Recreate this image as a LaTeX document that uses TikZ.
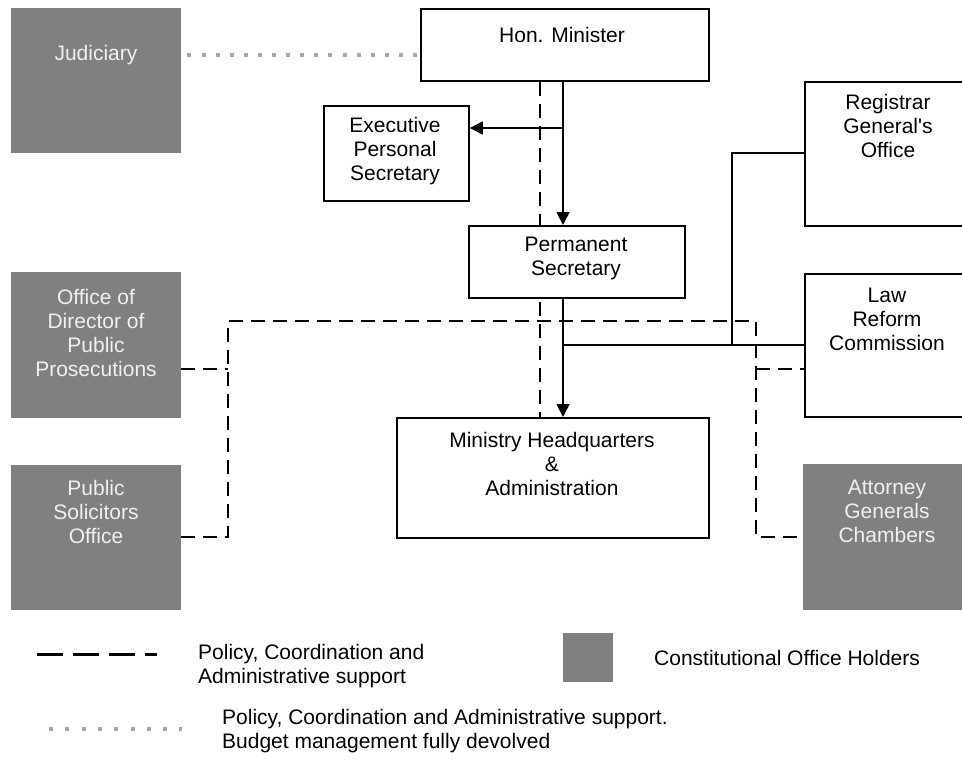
\documentclass[tikz,border=0pt]{standalone}
\usepackage{fontspec}
\setmainfont{Liberation Sans}[Ligatures=TeXOff]
\usetikzlibrary{arrows.meta,backgrounds}
\definecolor{cgray}{HTML}{808080}
\definecolor{dotgray}{HTML}{A8A8A8}
\tikzset{
  wbox/.style={draw=black, line width=1.8pt, fill=white, anchor=north west, inner sep=0pt},
  gbox/.style={fill=cgray, draw=none, anchor=north west, inner sep=0pt},
  txt/.style={align=center, inner sep=0pt, font=\fontsize{21}{24}\selectfont},
  gtxt/.style={txt, text=white!94!black},
  solid line/.style={draw=black, line width=1.8pt},
  arr/.style={solid line, -{Triangle[width=13pt,length=13pt]}},
  dline/.style={draw=black, line width=1.8pt, dash pattern=on 14pt off 8pt},
  dotline/.style={draw=dotgray, line width=4pt, dash pattern=on 4pt off 10.1pt},
}
\begin{document}
\begin{tikzpicture}[x=1pt,y=-1pt]
\useasboundingbox (0,0) rectangle (962,761);
% boxes
\node[gbox, minimum width=170pt, minimum height=145pt] (jud) at (11,8) {};
\node[gtxt] (judt) at (96,55) {Judiciary};
\node[wbox, minimum width=288pt, minimum height=72pt] (min) at (420,8) {};
\node[txt] (mint) at (562,35) {Hon. Minister};
\node[wbox, minimum width=145pt, minimum height=95pt] (eps) at (323,105) {};
\node[txt] (epst) at (395,151) {Executive\\Personal\\Secretary};
\node[wbox, minimum width=216pt, minimum height=72pt] (ps) at (468,225) {};
\node[txt] (pst) at (576,258) {Permanent\\Secretary};
\node[wbox, minimum width=170pt, minimum height=144pt] (rgo) at (804,81) {};
\node[txt] (rgot) at (888,126) {Registrar\\General's\\Office};
\node[wbox, minimum width=170pt, minimum height=143pt] (lrc) at (804,273) {};
\node[txt] (lrct) at (887,319) {Law\\Reform\\Commission};
\node[gbox, minimum width=170pt, minimum height=146pt] (dpp) at (11,272) {};
\node[gtxt] (dppt) at (96,333) {Office of\\Director of\\Public\\Prosecutions};
\node[gbox, minimum width=170pt, minimum height=145pt] (pso) at (11,465) {};
\node[gtxt] (psot) at (96,512) {Public\\Solicitors\\Office};
\node[wbox, minimum width=312pt, minimum height=120pt] (hq) at (396,417) {};
\node[txt] (hqt) at (552,464) {Ministry Headquarters\\\&\\Administration};
\node[gbox, minimum width=165pt, minimum height=146pt] (agc) at (803,464) {};
\node[gtxt] (agct) at (887,511) {Attorney\\Generals\\Chambers};
% helper coordinates
\coordinate (jl) at (0,55);
\coordinate (sx) at (563,0);
\coordinate (dx) at (540,0);
\coordinate (ey) at (0,128);
\coordinate (ly) at (0,345);
\coordinate (rx) at (732,0);
\coordinate (ry) at (0,153);
\coordinate (lx) at (228,0);
\coordinate (rdx) at (756,0);
\coordinate (ty) at (0,321);
\coordinate (my) at (0,369);
\coordinate (by) at (0,537);
\begin{scope}[on background layer]
% dotted
\draw[dotline, dash phase=-6pt] (jud.east |- jl) -- (min.west |- jl);
% dashed connectors
\draw[dline] (min.south -| dx) -- (hq.north -| dx);
\draw[dline] (pso.east |- by) -- (lx |- by) -- (lx |- ty) -- (rdx |- ty) -- (rdx |- by) -- (agc.west |- by);
\draw[dline] (dpp.east |- my) -- (lx |- my);
\draw[dline] (rdx |- my) -- (lrc.west |- my);
% solid connectors
\draw[arr] (min.south -| sx) -- (ps.north -| sx);
\draw[arr] (sx |- ey) -- (eps.east |- ey);
\draw[arr] (ps.south -| sx) -- (hq.north -| sx);
\draw[solid line] (sx |- ly) -- (lrc.west |- ly);
\draw[solid line] (rx |- ly) -- (rx |- ry) -- (rgo.west |- ry);
\end{scope}
% legend
\coordinate (l1a) at (37,654);
\coordinate (l1b) at (157,654);
\draw[draw=black, line width=3pt, dash pattern=on 26pt off 10pt] (l1a) -- (l1b);
\node[txt, align=left, anchor=west] (l1t) at (198,666) {Policy, Coordination and\\Administrative support};
\node[gbox, minimum width=50pt, minimum height=49pt] (lsq) at (563,633) {};
\node[txt, anchor=west] (l2t) at (654,658) {Constitutional Office Holders};
\coordinate (l3a) at (49,729);
\coordinate (l3b) at (182,729);
\draw[dotline, dash pattern=on 4pt off 12.3pt] (l3a) -- (l3b);
\node[txt, align=left, anchor=west] (l3t) at (222,731) {Policy, Coordination and Administrative support.\\Budget management fully devolved};
\end{tikzpicture}
\end{document}
